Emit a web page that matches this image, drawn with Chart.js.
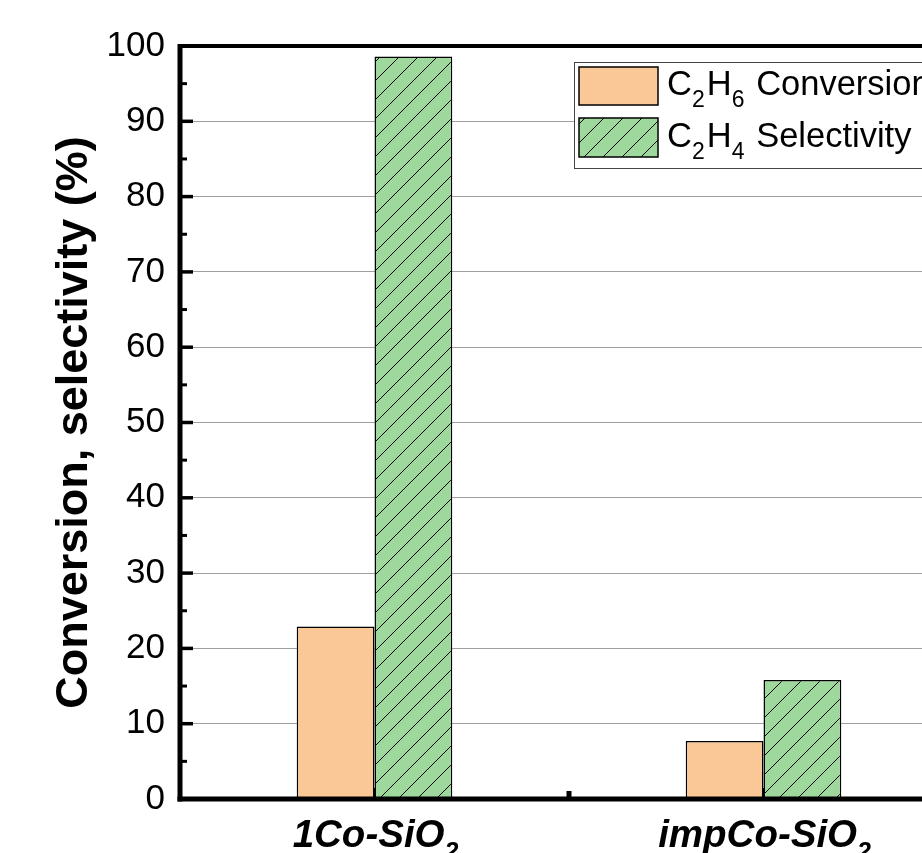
<!DOCTYPE html>
<html>
<head>
<meta charset="utf-8">
<script src="https://cdn.jsdelivr.net/npm/chart.js@4/dist/chart.umd.min.js"></script>
<style>
  html, body { margin: 0; padding: 0; background: #fff; overflow: hidden; }
  canvas { display: block; }
</style>
</head>
<body>
<canvas id="bars" width="958" height="853"></canvas>
<script>
// dados
const categories = ['1Co-SiO₂', 'impCo-SiO₂'];
const seriesNames = ['C₂H₆ Conversion', 'C₂H₄ Selectivity'];
const conversion = [22.9, 7.7];
const selectivity = [98.6, 15.8];
const yMajorTicks = [0, 10, 20, 30, 40, 50, 60, 70, 80, 90, 100];
const yMinorTicks = [5, 15, 25, 35, 45, 55, 65, 75, 85, 95];

const FONT = '"Liberation Sans", Arial, Helvetica, sans-serif';
const orange = 'rgb(250, 200, 150)';
const green = 'rgb(158, 216, 156)';

// hachura "/" para a série de seletividade
function hatch(color) {
    const s = 19;
    const tile = document.createElement('canvas');
    tile.width = s; tile.height = s;
    const t = tile.getContext('2d');
    t.fillStyle = color;
    t.fillRect(0, 0, s, s);
    t.strokeStyle = '#000';
    t.lineWidth = 1;
    t.beginPath();
    t.moveTo(-1, s + 1); t.lineTo(s + 1, -1);
    t.moveTo(-2, 2); t.lineTo(2, -2);
    t.moveTo(s - 2, s + 2); t.lineTo(s + 2, s - 2);
    t.stroke();
    return t.createPattern(tile, 'repeat');
}

// texto com subscritos unicode (₀-₉)
const SUB = '₀₁₂₃₄₅₆₇₈₉';
function richText(ctx, text, x, y, size, style, align, gapK) {
    const parts = [];
    for (const ch of text) {
        const i = SUB.indexOf(ch);
        const sub = i >= 0;
        const c = sub ? String(i) : ch;
        const last = parts[parts.length - 1];
        if (last && last.sub === sub) last.t += c; else parts.push({ t: c, sub: sub });
    }
    const subSize = Math.round(size * 0.66);
    const gap = size * gapK;
    let w = 0;
    parts.forEach(p => {
        ctx.font = style + ' ' + (p.sub ? subSize : size) + 'px ' + FONT;
        p.w = ctx.measureText(p.t).width + (p.sub ? gap : 0);
        w += p.w;
    });
    let cx = align === 'center' ? x - w / 2 : x;
    ctx.textAlign = 'left';
    ctx.textBaseline = 'alphabetic';
    parts.forEach(p => {
        ctx.font = style + ' ' + (p.sub ? subSize : size) + 'px ' + FONT;
        ctx.fillText(p.t, cx, p.sub ? y + size * 0.35 : y);
        cx += p.w;
    });
}

const frame = {
    id: 'frame',
    afterDatasetsDraw(chart) {
        const { ctx, chartArea: a, scales: { x, y } } = chart;
        ctx.save();
        ctx.strokeStyle = '#000';
        ctx.lineCap = 'butt';
        const line = (x1, y1, x2, y2, w) => {
            ctx.lineWidth = w;
            ctx.beginPath(); ctx.moveTo(x1, y1); ctx.lineTo(x2, y2); ctx.stroke();
        };
        // eixos e borda superior
        line(a.left - 2, a.top, a.right, a.top, 4);
        line(a.left, a.top - 2, a.left, a.bottom + 2.5, 5);
        line(a.left - 2.5, a.bottom, a.right, a.bottom, 5);
        // ticks do eixo y (para dentro)
        yMajorTicks.forEach(v => {
            const py = y.getPixelForValue(v);
            line(a.left, py, a.left + 13, py, 3.5);
        });
        yMinorTicks.forEach(v => {
            const py = y.getPixelForValue(v);
            line(a.left, py, a.left + 7, py, 3);
        });
        // ticks do eixo x
        categories.forEach((c, i) => {
            const px = x.getPixelForValue(i);
            line(px, a.bottom, px, a.bottom - 11, 3);
            if (i > 0) {
                const mid = (px + x.getPixelForValue(i - 1)) / 2;
                line(mid, a.bottom, mid, a.bottom - 8, 5);
            }
        });
        ctx.restore();
    },
    afterDraw(chart) {
        const { ctx, scales: { x } } = chart;
        ctx.save();
        ctx.fillStyle = '#000';
        // rótulos das categorias
        categories.forEach((c, i) => {
            richText(ctx, c, x.getPixelForValue(i) + 2, 847, 38.5, 'italic bold', 'center', 0.05);
        });
        // legenda
        ctx.fillStyle = '#fff';
        ctx.fillRect(574, 62, 400, 106);
        ctx.strokeStyle = '#444';
        ctx.lineWidth = 1;
        ctx.strokeRect(574.5, 62.5, 400, 106);
        const ds = chart.data.datasets;
        const boxes = [[579, 67, 79, 38], [579, 118, 79, 39]];
        const base = [95, 147];
        seriesNames.forEach((name, i) => {
            const b = boxes[i];
            ctx.fillStyle = ds[i].backgroundColor;
            ctx.fillRect(b[0], b[1], b[2], b[3]);
            ctx.strokeStyle = '#000';
            ctx.lineWidth = 1.5;
            ctx.strokeRect(b[0], b[1], b[2], b[3]);
            ctx.fillStyle = '#000';
            richText(ctx, name, 667, base[i], 34.5, 'normal', 'left', 0.06);
        });
        ctx.restore();
    }
};

const ctx = document.getElementById('bars').getContext('2d');

new Chart(ctx, {
    type: 'bar',
    data: {
        labels: categories,
        datasets: [{
            label: seriesNames[0],
            data: conversion,
            backgroundColor: orange,
            borderColor: '#000',
            borderWidth: 1.5
        }, {
            label: seriesNames[1],
            data: selectivity,
            backgroundColor: hatch(green),
            borderColor: '#000',
            borderWidth: 1.5
        }]
    },
    options: {
        responsive: false,
        animation: false,
        devicePixelRatio: 1,
        layout: { padding: { top: 46, left: 0, right: 0, bottom: 0 } },
        datasets: {
            bar: { categoryPercentage: 0.4, barPercentage: 1.0 }
        },
        plugins: {
            legend: { display: false },
            tooltip: { enabled: false }
        },
        scales: {
            x: {
                grid: { display: false },
                border: { display: false },
                ticks: { display: false },
                afterFit(scale) { scale.height = 54; }
            },
            y: {
                min: 0,
                max: 100,
                grid: { color: '#a0a0a0', lineWidth: 1, drawTicks: false },
                border: { display: false },
                ticks: {
                    stepSize: 10,
                    padding: 15,
                    color: '#000',
                    font: { family: FONT, size: 35 }
                },
                title: {
                    display: true,
                    text: 'Conversion, selectivity (%)',
                    color: '#000',
                    font: { family: FONT, size: 45, weight: 'bold' },
                    padding: { top: 48, bottom: 0 }
                },
                afterFit(scale) { scale.width = 180; }
            }
        }
    },
    plugins: [frame]
});
</script>
</body>
</html>
